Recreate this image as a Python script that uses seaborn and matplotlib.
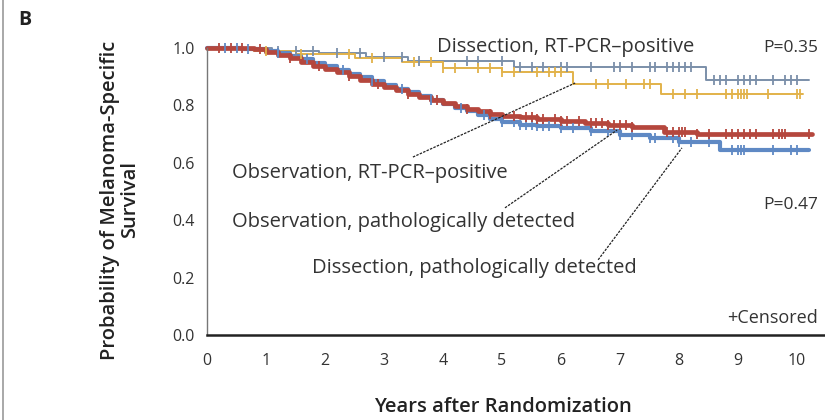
import numpy as np
import pandas as pd
import matplotlib
matplotlib.use("Agg")
import matplotlib.pyplot as plt
import seaborn as sns
from matplotlib.lines import Line2D

sns.set_style("white")
plt.rcParams['font.family'] = ['Open Sans', 'DejaVu Sans']

# ---------------- data ----------------
groups = ["Dissection, RT-PCR–positive", "Observation, RT-PCR–positive",
          "Dissection, pathologically detected", "Observation, pathologically detected"]

dis_pcr_t = [0, 1.1, 1.9, 2.7, 3.4, 5.2, 8.45, 10.2]
dis_pcr_s = [1.0, 0.99, 0.982, 0.968, 0.955, 0.935, 0.89, 0.89]
dis_pcr_c = [1.2, 1.5, 1.8, 2.2, 2.6, 3.0, 3.3, 3.6, 4.4, 4.6, 5.0, 5.3, 5.5, 5.7, 6.0, 6.1,
             6.5, 6.9, 7.0, 7.2, 7.5, 7.6, 7.8, 7.9, 8.0, 8.1, 8.2, 8.6, 8.7, 8.8, 9.0, 9.1,
             9.2, 9.3, 9.6, 9.8, 9.9, 10.0]

obs_pcr_t = [0, 0.8, 1.5, 2.5, 3.3, 4.0, 5.0, 6.2, 7.7, 10.1]
obs_pcr_s = [1.0, 0.99, 0.978, 0.965, 0.95, 0.93, 0.918, 0.875, 0.84, 0.84]
obs_pcr_c = [1.0, 1.6, 2.4, 2.8, 3.5, 3.8, 4.0, 4.2, 4.6, 4.8, 5.0, 5.2, 5.6, 5.8, 5.9, 6.0,
             6.6, 6.8, 7.1, 7.4, 7.5, 7.9, 8.1, 8.3, 8.8, 8.9, 9.0, 9.05, 9.1, 9.15, 9.5,
             10.0, 10.05]

dis_path_t = [0, 0.6, 1.0, 1.2, 1.4, 1.6, 1.8, 2.0, 2.2, 2.4, 2.6, 2.8, 3.0, 3.2, 3.4, 3.6,
              3.8, 4.0, 4.2, 4.4, 4.6, 4.8, 5.0, 5.3, 5.6, 6.0, 6.5, 7.0, 7.5, 8.0, 8.7,
              10.2]
dis_path_s = [1.0, 0.997, 0.99, 0.982, 0.972, 0.96, 0.948, 0.936, 0.924, 0.911, 0.898,
              0.885, 0.872, 0.858, 0.845, 0.832, 0.818, 0.805, 0.792, 0.779, 0.766, 0.754,
              0.743, 0.733, 0.727, 0.72, 0.71, 0.697, 0.686, 0.673, 0.645, 0.645]
dis_path_c = [0.3, 0.5, 0.7, 1.2, 1.7, 2.3, 2.8, 3.3, 3.8, 4.3, 4.7, 5.0, 5.2, 5.3, 5.4, 5.5,
              5.6, 5.7, 5.8, 6.0, 6.2, 6.5, 6.8, 7.0, 7.2, 7.5, 7.6, 7.9, 8.0, 8.2, 8.5,
              8.9, 9.0, 9.05, 9.1, 9.6, 9.9, 10.0]

obs_path_t = [0, 0.5, 0.8, 1.0, 1.2, 1.4, 1.6, 1.8, 2.0, 2.2, 2.4, 2.6, 2.8, 3.0, 3.2, 3.4,
              3.6, 3.8, 4.0, 4.2, 4.4, 4.6, 4.8, 5.0, 5.3, 5.6, 6.0, 6.4, 6.8, 7.2, 7.75,
              8.3, 10.25]
obs_path_s = [1.0, 1.0, 0.996, 0.986, 0.976, 0.965, 0.952, 0.939, 0.927, 0.915, 0.902,
              0.889, 0.876, 0.864, 0.852, 0.84, 0.829, 0.818, 0.807, 0.797, 0.788, 0.779,
              0.771, 0.764, 0.758, 0.752, 0.745, 0.738, 0.731, 0.725, 0.708, 0.702, 0.702]
obs_path_c = [0.2, 0.4, 0.6, 0.9, 1.4, 1.9, 2.4, 2.9, 3.4, 3.9, 4.4, 4.8, 5.2, 5.4, 5.5,
              5.6, 5.7, 5.9, 6.0, 6.1, 6.3, 6.5, 6.6, 6.7, 6.8, 6.9, 7.0, 7.1, 7.2, 7.8,
              7.9, 8.0, 8.05, 8.1, 8.3, 8.5, 8.8, 8.9, 9.0, 9.1, 9.2, 9.3, 9.6, 9.7, 9.75,
              9.8, 10.2]

x_ticks = list(range(0, 11))
y_ticks = [0.0, 0.2, 0.4, 0.6, 0.8, 1.0]

colors = {groups[0]: "#7b8fa9", groups[1]: "#e2b24a",
          groups[2]: "#5f89c4", groups[3]: "#b5473d"}

series = {
    groups[0]: (dis_pcr_t, dis_pcr_s, dis_pcr_c),
    groups[1]: (obs_pcr_t, obs_pcr_s, obs_pcr_c),
    groups[2]: (dis_path_t, dis_path_s, dis_path_c),
    groups[3]: (obs_path_t, obs_path_s, obs_path_c),
}

curve_rows, cens_rows = [], []
for g, (t, s, c) in series.items():
    for ti, si in zip(t, s):
        curve_rows.append({"group": g, "years": ti, "surv": si})
    t_arr, s_arr = np.array(t), np.array(s)
    for ci in c:
        idx = np.searchsorted(t_arr, ci, side="right") - 1
        cens_rows.append({"group": g, "years": ci, "surv": s_arr[idx]})
curves = pd.DataFrame(curve_rows)
cens = pd.DataFrame(cens_rows)

# ---------------- figure ----------------
fig = plt.figure(figsize=(8.25, 4.2), dpi=100)
W, H = 825, 420
x0px, pxyr = 207, 59.0
y0px, y1px = 335, 48
ytop = 1.03
top_px = y0px - (y0px - y1px) * ytop
xmax = 10.47
ax = fig.add_axes([x0px / W, (H - y0px) / H, pxyr * xmax / W, (y0px - top_px) / H])

lw = {groups[0]: 1.4, groups[1]: 1.4, groups[2]: 3.0, groups[3]: 3.4}
for g in groups:
    d = curves[curves.group == g]
    sns.lineplot(data=d, x="years", y="surv", ax=ax, color=colors[g], lw=lw[g],
                 drawstyle="steps-post", estimator=None, sort=False, legend=False,
                 clip_on=False)
    dc = cens[cens.group == g]
    sns.scatterplot(data=dc, x="years", y="surv", ax=ax, color=colors[g], marker="|",
                    s=45, linewidth=1.3, legend=False, clip_on=False, zorder=3)

ax.set_xlim(0, xmax)
ax.set_ylim(0, ytop)
ax.set_xticks(x_ticks)
ax.set_xticklabels([str(v) for v in x_ticks])
ax.set_yticks(y_ticks)
ax.set_yticklabels([f"{v:.1f}" for v in y_ticks])
for sp in ["top", "right"]:
    ax.spines[sp].set_visible(False)
ax.spines["left"].set_bounds(0, 1.0)
ax.spines["left"].set_color("#777777")
ax.spines["left"].set_linewidth(1.0)
ax.spines["bottom"].set_color("#222222")
ax.spines["bottom"].set_linewidth(1.8)
ax.tick_params(axis="x", direction="out", length=7, width=1, colors="#555555",
               labelsize=11.5, labelcolor="#333333", pad=6)
ax.tick_params(axis="y", direction="out", length=6, width=1, colors="#777777",
               labelsize=11.5, labelcolor="#333333", pad=3)
ax.set_xlabel("")
ax.set_ylabel("")

fig.text(503 / W, 1 - 407 / H, "Years after Randomization", fontsize=14.5,
         fontweight="semibold", color="#222222", ha="center", va="center")
fig.text(120 / W, 1 - 200 / H, "Probability of Melanoma-Specific\nSurvival",
         fontsize=14.5, fontweight="semibold", color="#222222", ha="center",
         va="center", rotation=90, linespacing=1.0)

tc = "#333333"
fs = 14.5
ax.text(3.9, 1.003, "Dissection, RT-PCR–positive", fontsize=fs, color=tc, va="center")
ax.text(10.36, 1.0, "P=0.35", fontsize=12.5, color=tc, va="center", ha="right")
ax.text(10.36, 0.453, "P=0.47", fontsize=12.5, color=tc, va="center", ha="right")
ax.text(10.36, 0.06, "+Censored", fontsize=13, color=tc, va="center", ha="right")

ax.text(0.42, 0.565, "Observation, RT-PCR–positive", fontsize=fs, color=tc, va="center")
ax.text(0.42, 0.392, "Observation, pathologically detected", fontsize=fs, color=tc,
        va="center")
ax.text(4.54, 0.233, "Dissection, pathologically detected", fontsize=fs, color=tc,
        va="center", ha="center")

lead = dict(color="#222222", lw=0.9, ls=(0, (2, 1)))
ax.plot([3.49, 6.24], [0.62, 0.878], **lead)
ax.plot([5.05, 6.95], [0.443, 0.714], **lead)
ax.plot([6.63, 8.05], [0.262, 0.652], **lead)

fig.text(25 / W, 1 - 20 / H, "B", fontsize=14, fontweight="bold", color="#222222",
         ha="center", va="center")
fig.add_artist(Line2D([3 / W, 3 / W], [0, 1], color="#999999", lw=1.2))

fig.savefig("out.png", dpi=100)
